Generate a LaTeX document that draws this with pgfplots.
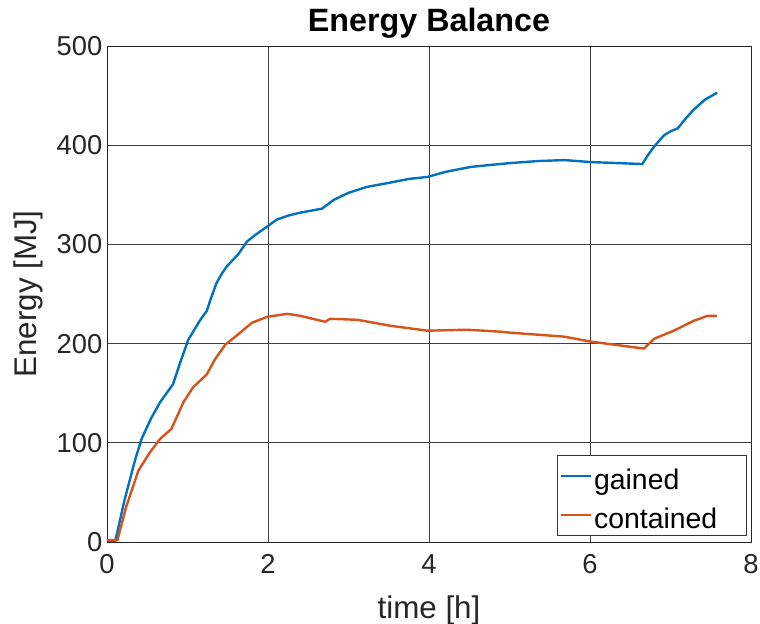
\documentclass[border=0pt]{standalone}
\usepackage{fontspec}
\setmainfont{Liberation Sans}
\usepackage{pgfplots}
\pgfplotsset{compat=1.18}
\definecolor{mblue}{RGB}{0,114,189}
\definecolor{morange}{RGB}{217,83,25}
\definecolor{mgray}{RGB}{38,38,38}
\begin{document}
\begin{tikzpicture}
\begin{axis}[
    scale only axis,
    width=483pt, height=372pt,
    xmin=0, xmax=8, ymin=0, ymax=500,
    xtick={0,2,4,6,8}, ytick={0,100,200,300,400,500},
    /pgf/number format/assume math mode=true,
    tick label style={font=\fontsize{20.5}{24}\selectfont, text=mgray},
    xticklabel style={yshift=-6pt},
    xlabel={time [h]}, ylabel={Energy [MJ]},
    label style={font=\fontsize{23.5}{27}\selectfont, text=mgray},
    xlabel style={at={(0.5,0)}, anchor=base, yshift=-57pt},
    ylabel style={at={(0,0.5)}, anchor=base, yshift=52.7pt},
    title={\textbf{Energy Balance}},
    title style={font=\fontsize{24.2}{28}\selectfont, at={(0.5,1)}, anchor=base, yshift=4.7pt},
    grid=major,
    grid style={black!75, line width=0.5pt},
    axis line style={mgray, line width=0.6pt},
    tick style={draw=none},
    legend style={
        at={(1,0)}, anchor=south east, xshift=-3pt, yshift=4.5pt,
        font=\fontsize{21.3}{25}\selectfont,
        draw=black!80, line width=0.6pt, fill=white,
        row sep=4.5pt, inner xsep=1.5pt, inner ysep=3pt,
        nodes={inner xsep=1.5pt, inner ysep=2.25pt, text height=20.25pt, text depth=0pt},
    },
    legend cell align=left,
    legend image code/.code={\draw[#1, line width=1.8pt] (0pt,0pt) -- (22.5pt,0pt);},
]
\addplot[mblue, line width=1.8pt] coordinates {
(0,0)(0.1,0)(0.22,43)(0.35,83)(0.43,104)(0.55,125)(0.66,141)(0.82,159)(0.91,181)
(1.01,204)(1.16,224)(1.24,233)(1.28,243)(1.36,261)(1.43,271)(1.49,278)(1.63,290)
(1.74,303)(1.85,310)(1.99,318)(2.11,325)(2.25,329)(2.40,332)(2.67,336)(2.82,345)
(3.0,352)(3.23,358)(3.5,362)(3.75,366)(3.98,368)(4.2,373)(4.51,378)(4.75,380)
(5.01,382)(5.35,384)(5.68,385)(6.01,383)(6.65,381)(6.72,390)(6.80,399)(6.92,410)
(7.0,414)(7.09,417)(7.18,426)(7.29,436)(7.43,446)(7.58,453)
};
\addlegendentry{gained}
\addplot[morange, line width=1.8pt] coordinates {
(0,2)(0.13,2)(0.24,36)(0.39,72)(0.53,90)(0.66,104)(0.80,114)(0.95,141)(1.07,156)
(1.24,169)(1.34,184)(1.47,199)(1.61,208)(1.80,221)(1.99,227)(2.24,230)(2.40,228)
(2.71,222)(2.77,225)(3.11,224)(3.52,218)(3.98,213)(4.47,214)(4.89,212)(5.01,211)
(5.68,207)(6.01,202)(6.67,195)(6.80,205)(7.04,213)(7.29,223)(7.46,228)(7.58,228)
};
\addlegendentry{contained\hspace*{19pt}}
\end{axis}
\pgfresetboundingbox
\useasboundingbox ([xshift=-80.25pt,yshift=-61.5pt]current axis.south west)
    rectangle ([xshift=6.75pt,yshift=34.5pt]current axis.north east);
\end{tikzpicture}
\end{document}
